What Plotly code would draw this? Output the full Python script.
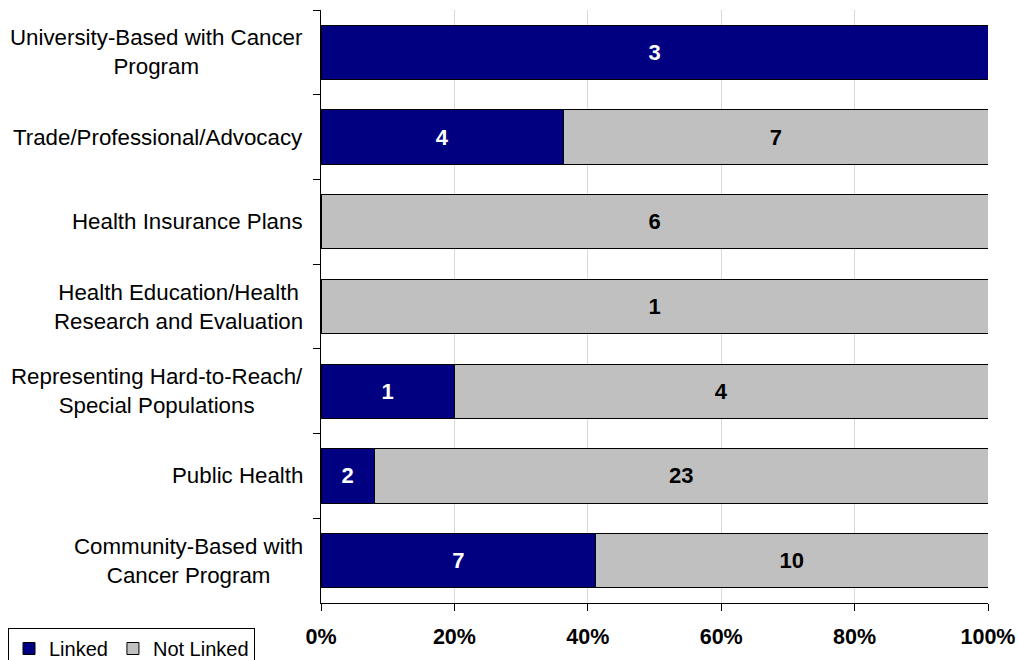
import plotly.graph_objects as go

categories = [
    "University-Based with Cancer<br>Program",
    "Trade/Professional/Advocacy",
    "Health Insurance Plans",
    "Health Education/Health<br>Research and Evaluation",
    "Representing Hard-to-Reach/<br>Special Populations",
    "Public Health",
    "Community-Based with<br>Cancer Program",
]
linked = [3, 4, 0, 0, 1, 2, 7]
not_linked = [0, 7, 6, 1, 4, 23, 10]
x_ticks = [0, 0.2, 0.4, 0.6, 0.8, 1.0]
x_tick_labels = ["0%", "20%", "40%", "60%", "80%", "100%"]

totals = [a + b for a, b in zip(linked, not_linked)]
linked_share = [a / t for a, t in zip(linked, totals)]
not_share = [b / t for b, t in zip(not_linked, totals)]

FONT = "Liberation Sans, Arial, sans-serif"

fig = go.Figure()
fig.add_trace(go.Bar(
    y=categories, x=linked_share, orientation="h", name="Linked",
    marker=dict(color="#000080", line=dict(color="black", width=1)),
    text=[str(v) if v else "" for v in linked], texttemplate="%{text}",
    textposition="inside", insidetextanchor="middle", textangle=0,
    constraintext="none",
    insidetextfont=dict(color="white", size=22, family=FONT, weight="bold"),
    hoverinfo="skip",
))
fig.add_trace(go.Bar(
    y=categories, x=not_share, orientation="h", name="Not Linked",
    marker=dict(color="#C0C0C0", line=dict(color="black", width=1)),
    text=[str(v) if v else "" for v in not_linked], texttemplate="%{text}",
    textposition="inside", insidetextanchor="middle", textangle=0,
    constraintext="none",
    insidetextfont=dict(color="black", size=22, family=FONT, weight="bold"),
    hoverinfo="skip",
))

for c in categories:
    fig.add_annotation(
        x=0, xref="paper", y=c, yref="y", text=c, showarrow=False,
        xanchor="right", yanchor="middle", align="center", xshift=-16,
        font=dict(size=22.3, family=FONT, color="black"),
    )

fig.update_layout(
    barmode="stack", bargap=0.36,
    width=1018, height=660,
    margin=dict(l=321, r=30, t=10, b=57),
    plot_bgcolor="white", paper_bgcolor="white",
    font=dict(family=FONT, size=20, color="black"),
    showlegend=True,
    legend=dict(
        orientation="h", xref="container", yref="container",
        x=8 / 1018, y=1 - 628 / 660, xanchor="left", yanchor="top",
        bordercolor="black", borderwidth=1, font=dict(size=20, family=FONT),
        traceorder="normal", itemwidth=30,
    ),
    xaxis=dict(
        range=[0, 1], tickvals=x_ticks, ticktext=x_tick_labels,
        showgrid=True, gridcolor="#D9D9D9", gridwidth=1,
        ticks="outside", ticklen=7, tickcolor="black",
        showline=True, linecolor="black", linewidth=1,
        tickfont=dict(size=21.5, family=FONT, weight="bold"),
        ticklabelstandoff=7,
        zeroline=False, fixedrange=True, automargin=False,
    ),
    yaxis=dict(
        autorange="reversed", showticklabels=False, tickson="boundaries",
        ticks="outside", ticklen=7, tickcolor="black",
        showline=True, linecolor="black", linewidth=1,
        showgrid=False, fixedrange=True, automargin=False,
    ),
)

fig.write_html(
    "out.html",
    config={"displayModeBar": False},
    post_script="document.body.style.margin='0';",
)
